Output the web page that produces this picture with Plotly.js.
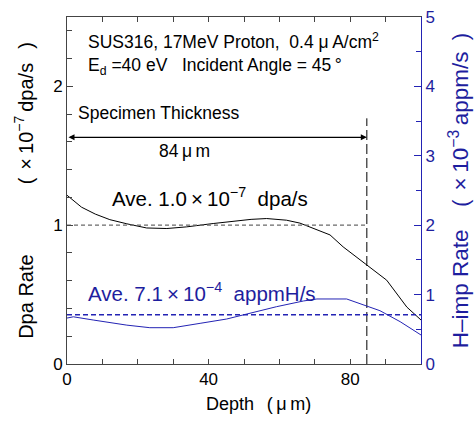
<!DOCTYPE html>
<html><head><meta charset="utf-8">
<script src="https://cdn.plot.ly/plotly-3.0.1.min.js"></script>
<style>html,body{margin:0;padding:0;background:#fff}#chart{width:476px;height:422px}</style>
</head><body><div id="chart"></div>
<script>
// Dpa rate (x1e-7 dpa/s) vs depth (um)
var dpaDepth = [0, 4.1, 8, 12.1, 16.9, 22.5, 28.2, 33.8, 41.3, 47.9, 52, 56.4, 62, 65.8, 70, 74.3, 78, 84.7, 90.3, 96, 100];
var dpaRate  = [1.216, 1.13, 1.08, 1.04, 1.01, 0.98, 0.976, 0.988, 1.012, 1.03, 1.042, 1.048, 1.036, 1.015, 0.975, 0.93, 0.844, 0.712, 0.604, 0.41, 0.317];
// H-implantation rate (x1e-3 appm/s) vs depth (um)
var hDepth = [0, 1.8, 7.4, 10.3, 16.9, 23.4, 30, 37.6, 45.1, 50.8, 59.2, 66.8, 70.6, 79, 84.7, 88.4, 94.1, 100];
var hRate  = [0.662, 0.68, 0.634, 0.61, 0.56, 0.523, 0.523, 0.586, 0.648, 0.72, 0.826, 0.908, 0.937, 0.937, 0.836, 0.768, 0.61, 0.418];
// averages and specimen thickness
var dpaAvg = [1.0];
var hAvg = [0.71];
var thickness = [84.7];
var xTicks = [0, 40, 80];
var yTicks = [0, 1, 2];
var y2Ticks = [0, 1, 2, 3, 4, 5];

var BLUE = '#2323b4';
var BLUET = '#1e1e9e';
var FONT = 'Arial, "Liberation Sans", sans-serif';
var EM = '\u2003', EN = '\u2002', TH = '\u2009';

var traces = [
  {x: dpaDepth, y: dpaRate, type: 'scatter', mode: 'lines', line: {color: '#000', width: 1}, yaxis: 'y'},
  {x: [0, thickness[0]], y: [dpaAvg[0], dpaAvg[0]], type: 'scatter', mode: 'lines', line: {color: '#6a6a6a', width: 1.3, dash: '4px,3px'}, yaxis: 'y'},
  {x: hDepth, y: hRate, type: 'scatter', mode: 'lines', line: {color: BLUE, width: 1}, yaxis: 'y2'},
  {x: [0, 100], y: [hAvg[0], hAvg[0]], type: 'scatter', mode: 'lines', line: {color: BLUE, width: 1.3, dash: '5px,3px'}, yaxis: 'y2'},
  {x: [thickness[0], thickness[0]], y: [0, 1.77], type: 'scatter', mode: 'lines', line: {color: '#000', width: 1, dash: '10px,4px'}, yaxis: 'y'}
];

var layout = {
  width: 476, height: 422,
  margin: {l: 67, r: 55, t: 17, b: 58},
  showlegend: false,
  paper_bgcolor: '#fff', plot_bgcolor: '#fff',
  font: {family: FONT, size: 17, color: '#000'},
  xaxis: {
    range: [0, 100], tickvals: xTicks, ticks: 'inside', ticklen: 5, tickcolor: '#444',
    minor: {dtick: 10, ticks: 'inside', ticklen: 5, tickcolor: '#444'},
    showline: true, linecolor: '#444', linewidth: 1, mirror: 'ticks',
    showgrid: false, zeroline: false, tickfont: {size: 17}
  },
  yaxis: {
    range: [0, 2.5], tickvals: yTicks, ticks: 'inside', ticklen: 6, tickcolor: '#444',
    minor: {dtick: 0.2, ticks: 'inside', ticklen: 5, tickcolor: '#444'},
    showline: true, linecolor: '#444', linewidth: 1,
    showgrid: false, zeroline: false, tickfont: {size: 17},
    title: {text: 'Dpa Rate' + EM + EM + EM + EN + '(' + TH + TH + '×' + TH + '10<sup>−7</sup>' + TH + 'dpa/s' + EN + TH + ')', font: {size: 20}, standoff: 14}
  },
  yaxis2: {
    range: [0, 5], tickvals: y2Ticks, overlaying: 'y', side: 'right', ticks: 'inside', ticklen: 7, tickcolor: BLUE,
    minor: {dtick: 0.5, ticks: 'inside', ticklen: 5, tickcolor: BLUE},
    showline: true, linecolor: BLUE, linewidth: 1,
    showgrid: false, zeroline: false, tickfont: {size: 17, color: BLUET},
    title: {text: 'H–imp Rate' + EM + '(' + TH + TH + '×' + TH + '10<sup>−3</sup>' + TH + 'appm/s' + EN + ')' + EM + TH, font: {size: 22.5, color: BLUET}, standoff: 18}
  },
  annotations: [
    {xref: 'x', yref: 'y', x: 5.4, y: 2.33, xanchor: 'left', yanchor: 'middle', showarrow: false,
     text: 'SUS316, 17MeV Proton,  0.4 μ' + TH + 'A/cm<sup>2</sup>', font: {size: 17.5}},
    {xref: 'x', yref: 'y', x: 5.4, y: 2.14, xanchor: 'left', yanchor: 'middle', showarrow: false,
     text: 'E<sub>d</sub> =40 eV   Incident Angle = 45' + TH + '°', font: {size: 17.5}},
    {xref: 'x', yref: 'y', x: 2.5, y: 1.806, xanchor: 'left', yanchor: 'middle', showarrow: false,
     text: 'Specimen Thickness', font: {size: 17.5}},
    {xref: 'x', yref: 'y', axref: 'x', ayref: 'y', x: thickness[0], y: 1.633, ax: 0, ay: 1.633,
     showarrow: true, arrowhead: 2, arrowside: 'end+start', arrowsize: 1, arrowwidth: 1.2, arrowcolor: '#000', text: ''},
    {xref: 'x', yref: 'y', x: 33.3, y: 1.532, xanchor: 'center', yanchor: 'middle', showarrow: false,
     text: '84' + TH + 'μ' + TH + 'm', font: {size: 17.5}},
    {xref: 'x', yref: 'y', x: 40.4, y: 1.2, xanchor: 'center', yanchor: 'middle', showarrow: false,
     text: 'Ave. 1.0' + TH + '×' + TH + '10<sup>−7</sup>  dpa/s', font: {size: 20.5}},
    {xref: 'x', yref: 'y', x: 38.2, y: 0.52, xanchor: 'center', yanchor: 'middle', showarrow: false,
     text: 'Ave. 7.1' + TH + '×' + TH + '10<sup>−4</sup>  appmH/s', font: {size: 20.5, color: BLUET}},
    {xref: 'paper', yref: 'paper', x: 0.54, y: -0.115, xanchor: 'center', yanchor: 'middle', showarrow: false,
     text: 'Depth' + EN + TH + '(' + TH + 'μ' + TH + 'm)', font: {size: 18}}
  ]
};

Plotly.newPlot('chart', traces, layout, {staticPlot: true, displayModeBar: false});
</script></body></html>
